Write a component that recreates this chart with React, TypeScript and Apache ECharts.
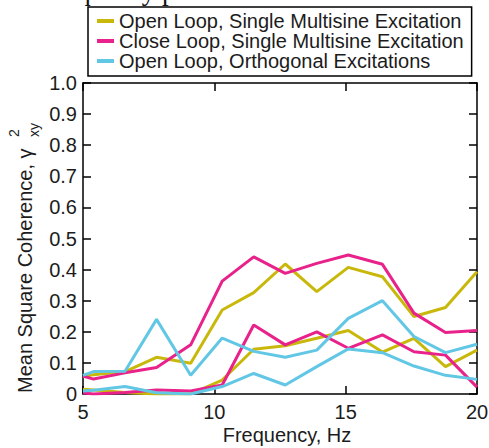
import React, { useEffect, useRef } from "react";
import * as echarts from "echarts";

// Frequency points (Hz); the first entry sits on the left axis edge
const freq = [5, 5.4, 6.6, 7.8, 9.1, 10.3, 11.5, 12.7, 13.9, 15.1, 16.4, 17.6, 18.8, 20];

// Mean square coherence, two output channels per configuration
const openSingleA = [0.057, 0.062, 0.072, 0.118, 0.099, 0.27, 0.326, 0.418, 0.329, 0.407, 0.377, 0.249, 0.278, 0.393];
const openSingleB = [0.015, 0.013, 0.005, 0.0, 0.0, 0.045, 0.144, 0.155, 0.179, 0.204, 0.135, 0.179, 0.088, 0.141];
const closeSingleA = [0.058, 0.048, 0.068, 0.085, 0.158, 0.363, 0.441, 0.388, 0.42, 0.447, 0.417, 0.26, 0.198, 0.204];
const closeSingleB = [0.003, 0.0, 0.005, 0.013, 0.01, 0.029, 0.222, 0.158, 0.2, 0.147, 0.19, 0.136, 0.125, 0.022];
const openOrthoA = [0.06, 0.072, 0.073, 0.24, 0.06, 0.18, 0.137, 0.118, 0.141, 0.243, 0.3, 0.185, 0.133, 0.16];
const openOrthoB = [0.01, 0.012, 0.024, 0.004, 0.0, 0.024, 0.066, 0.029, 0.088, 0.145, 0.133, 0.09, 0.06, 0.047];

const legendNames = [
  "Open Loop, Single Multisine Excitation",
  "Close Loop, Single Multisine Excitation",
  "Open Loop, Orthogonal Excitations",
];
const colors = ["#c9b80c", "#e8228a", "#62c7e5"];

const xTicks = { min: 5, max: 20, interval: 5 };
const yTicks = { min: 0, max: 1, interval: 0.1 };

const FONT = "'Liberation Sans', Arial, Helvetica, sans-serif";
const INK = "#1c1c1c";

function pairs(ys: number[]) {
  return freq.map((f, i) => [f, ys[i]]);
}

export default function App() {
  const ref = useRef<HTMLDivElement>(null);

  useEffect(() => {
    if (!ref.current) return;
    const chart = echarts.init(ref.current, null, { renderer: "svg" });

    const lineSeries = (name: string, ys: number[], color: string) => ({
      type: "line",
      name,
      data: pairs(ys),
      showSymbol: false,
      symbol: "none",
      color,
      lineStyle: { color, width: 3 },
      silent: true,
    });

    const axisLine = { show: true, onZero: false, lineStyle: { color: "#000", width: 1.5 } };
    const axisTick = { show: true, inside: true, length: 8, lineStyle: { color: "#000", width: 1.5 } };

    chart.setOption({
      animation: false,
      backgroundColor: "#fff",
      grid: {
        left: 83,
        right: 12,
        top: 83,
        bottom: 54,
        containLabel: false,
        outerBoundsMode: "none",
      },
      legend: {
        data: legendNames,
        orient: "vertical",
        left: 88,
        top: 7,
        padding: [4, 8, 5, 9],
        itemGap: 0,
        itemWidth: 17,
        itemHeight: 4,
        icon: "rect",
        borderColor: "#000",
        borderWidth: 1.5,
        backgroundColor: "#fff",
        textStyle: { fontSize: 20, lineHeight: 20, fontFamily: FONT, color: INK },
      },
      xAxis: [
        {
          type: "value",
          position: "bottom",
          ...xTicks,
          axisLine,
          axisTick,
          splitLine: { show: false },
          axisLabel: { fontSize: 20, fontFamily: FONT, color: INK, margin: 8 },
        },
        {
          type: "value",
          position: "top",
          ...xTicks,
          axisLine,
          axisTick,
          splitLine: { show: false },
          axisLabel: { show: false },
        },
      ],
      yAxis: [
        {
          type: "value",
          position: "left",
          ...yTicks,
          axisLine,
          axisTick,
          splitLine: { show: false },
          axisLabel: {
            fontSize: 20,
            fontFamily: FONT,
            color: INK,
            margin: 6,
            formatter: (v: number) => (Math.abs(v) < 1e-9 ? "0" : v.toFixed(1)),
          },
        },
        {
          type: "value",
          position: "right",
          ...yTicks,
          axisLine,
          axisTick,
          splitLine: { show: false },
          axisLabel: { show: false },
        },
      ],
      series: [
        lineSeries(legendNames[0], openSingleA, colors[0]),
        lineSeries(legendNames[0], openSingleB, colors[0]),
        lineSeries(legendNames[1], closeSingleA, colors[1]),
        lineSeries(legendNames[1], closeSingleB, colors[1]),
        lineSeries(legendNames[2], openOrthoA, colors[2]),
        lineSeries(legendNames[2], openOrthoB, colors[2]),
      ],
      graphic: [
        {
          type: "text",
          x: 0,
          y: 4,
          style: {
            text: "350 frequency points.",
            fontSize: 27,
            fontFamily: "'Liberation Serif', 'DejaVu Serif', serif",
            fill: "#111",
            align: "left",
            verticalAlign: "bottom",
          },
        },
        {
          type: "text",
          x: 287,
          y: 435,
          style: {
            text: "Frequency, Hz",
            fontSize: 20,
            fontFamily: FONT,
            fill: INK,
            align: "center",
            verticalAlign: "middle",
          },
        },
        {
          type: "group",
          x: 25,
          y: 393,
          rotation: Math.PI / 2,
          children: [
            {
              type: "text",
              x: 0,
              y: 0,
              style: {
                text: "Mean Square Coherence, γ",
                fontSize: 20,
                fontFamily: FONT,
                fill: INK,
                align: "left",
                verticalAlign: "middle",
              },
            },
            {
              type: "text",
              x: 256,
              y: -11,
              style: { text: "2", fontSize: 14, fontFamily: FONT, fill: INK, align: "left", verticalAlign: "middle" },
            },
            {
              type: "text",
              x: 256,
              y: 9,
              style: { text: "xy", fontSize: 14, fontFamily: FONT, fill: INK, align: "left", verticalAlign: "middle" },
            },
          ],
        },
      ],
    });

    return () => chart.dispose();
  }, []);

  return (
    <div
      ref={ref}
      style={{ position: "fixed", left: 0, top: 0, width: 489, height: 448, background: "#fff" }}
    />
  );
}
